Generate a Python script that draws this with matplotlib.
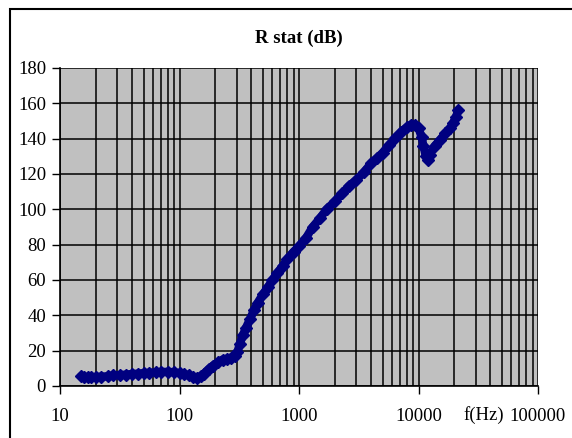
import matplotlib.pyplot as plt
from matplotlib.patches import Rectangle

# frequency (Hz) and R stat (dB)
freq = [15, 16, 17, 18, 20, 22, 25, 28, 32, 36, 40, 45, 50, 56, 63, 70, 80, 90,
        100, 110, 120, 130, 140, 150, 160, 175, 190, 210, 230, 250, 270, 290,
        305, 320, 340, 360, 390, 420, 450, 500, 550, 600, 660, 730, 800, 900,
        1000, 1150, 1300, 1500, 1700, 2000, 2300, 2600, 3000, 3500, 4000, 4500,
        5000, 5700, 6400, 7200, 8000, 8700, 9300, 10000, 10600, 11000, 11500,
        12000, 12500, 13700, 15000, 16800, 18500, 19500, 20500, 21500]
r_stat = [5.5, 5.2, 5.0, 5.2, 5.0, 5.3, 5.5, 6.0, 6.2, 6.5, 6.8, 7.0, 7.3, 7.5,
          7.8, 8.0, 8.0, 7.8, 7.3, 6.7, 6.0, 5.2, 4.5, 5.5, 7.0, 9.5, 11.5, 13.5,
          15.0, 15.5, 16.0, 17.0, 19.0, 24.0, 29.0, 33.0, 38.0, 43.0, 47.0, 52.0,
          56.0, 60.0, 64.0, 68.0, 72.0, 76.0, 79.0, 84.0, 90.0, 95.0, 100.0,
          104.5, 109.0, 113.0, 116.5, 121.0, 126.0, 129.0, 132.0, 136.5, 140.5,
          144.0, 146.5, 148.0, 148.0, 146.0, 141.0, 136.0, 130.0, 128.0, 131.0,
          136.0, 139.0, 143.0, 146.0, 149.0, 152.0, 156.0]

yticks = list(range(0, 181, 20))
xticks = [10, 100, 1000, 10000, 100000]
xlabels = ['10', '100', '1000', '10000', '100000']

plt.rcParams['font.family'] = ['Liberation Serif', 'DejaVu Serif']

fig = plt.figure(figsize=(5.72, 4.38), dpi=100)
ax = fig.add_axes([60 / 572, 1 - 386 / 438, 478 / 572, 318 / 438])
ax.set_facecolor('#c0c0c0')

ax.set_xscale('log')
ax.set_xlim(10, 100000)
ax.set_ylim(0, 180)

ax.grid(True, which='both', axis='x', color='black', linewidth=1.1)
ax.grid(True, which='major', axis='y', color='black', linewidth=1.1)
ax.set_axisbelow(True)

ax.plot(freq, r_stat, color='#000080', linewidth=6, marker='D',
        markersize=6, solid_capstyle='round')

ax.set_xticks(xticks, xlabels)
ax.set_yticks(yticks)
ax.tick_params(axis='x', which='minor', length=0)
ax.tick_params(axis='both', which='major', direction='out', length=6,
               width=1, labelsize=13.5, colors='black')
ax.tick_params(axis='x', pad=10)
ax.tick_params(axis='y', pad=4)

for s in ['top', 'right']:
    ax.spines[s].set_visible(False)
for s in ['left', 'bottom']:
    ax.spines[s].set_color('black')
    ax.spines[s].set_linewidth(1.2)

fig.text(299 / 572, 1 - 38 / 438, 'R stat (dB)', ha='center', va='center',
         fontsize=13.5, fontweight='bold')
fig.text(484 / 572, 1 - 415 / 438, 'f(Hz)', ha='center', va='center',
         fontsize=13.5)

# outer chart border
fig.patches.append(Rectangle((10 / 572, -0.1), 1.2, 1.1 - 10 / 438 + 0.002,
                             transform=fig.transFigure, fill=False,
                             edgecolor='black', linewidth=1.5))

fig.savefig('out.png', dpi=100)
